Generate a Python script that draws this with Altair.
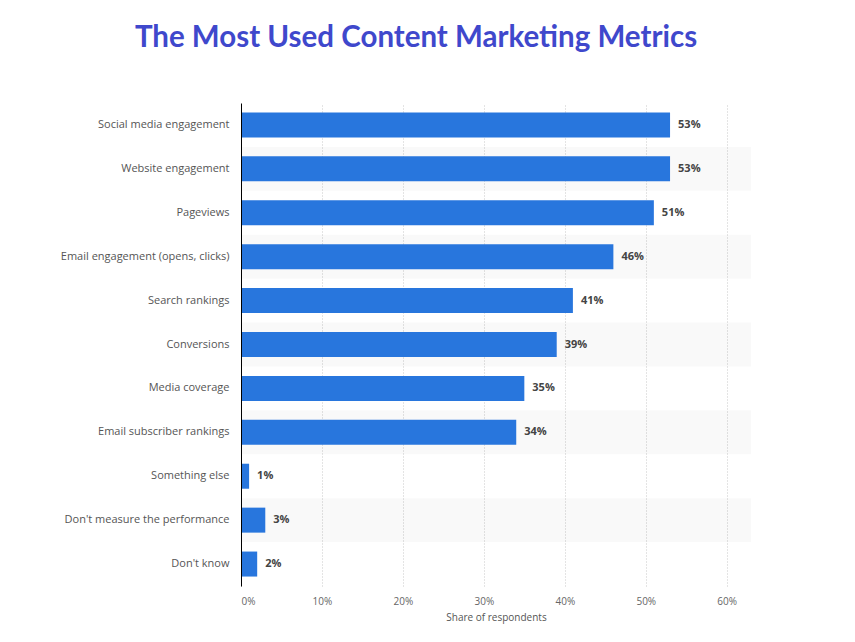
import altair as alt
import pandas as pd

categories = [
    "Social media engagement",
    "Website engagement",
    "Pageviews",
    "Email engagement (opens, clicks)",
    "Search rankings",
    "Conversions",
    "Media coverage",
    "Email subscriber rankings",
    "Something else",
    "Don't measure the performance",
    "Don't know",
]
values = [53, 53, 51, 46, 41, 39, 35, 34, 1, 3, 2]
striped = [i % 2 == 1 for i in range(len(categories))]

df = pd.DataFrame({
    "category": categories,
    "value": values,
    "label": [f"{v}%" for v in values],
    "striped": striped,
})

FONT = "Open Sans"
W, H = 510, 483

y_enc = alt.Y(
    "category:N",
    sort=categories,
    scale=alt.Scale(paddingInner=0, paddingOuter=0),
    axis=alt.Axis(
        title=None, ticks=False, domain=True, domainColor="#000000", domainWidth=1,
        labelFont=FONT, labelFontSize=11, labelColor="#555555", labelPadding=12,
        minExtent=233, maxExtent=233, grid=False,
    ),
)

x_scale = alt.Scale(domain=[0, 63], nice=False)

stripes = alt.Chart(df).transform_filter("datum.striped").mark_rect(
    color="#000000", opacity=0.022
).encode(
    y=y_enc,
    x=alt.value(0),
    x2=alt.value(W),
)

bars = alt.Chart(df).mark_bar(size=25, color="#2876dd").encode(
    y=y_enc,
    x=alt.X(
        "value:Q",
        scale=x_scale,
        axis=alt.Axis(
            title="Share of respondents", values=[0, 10, 20, 30, 40, 50, 60],
            labelExpr="datum.value + '%'", ticks=False, domain=False,
            grid=True, gridColor="#c8c8c8", gridDash=[1, 2], gridWidth=1,
            labelFont=FONT, labelFontSize=10, labelColor="#666666", labelPadding=10,
            titleFont=FONT, titleFontSize=10, titleColor="#555555",
            titleFontWeight="normal", titlePadding=6,
        ),
    ),
)

texts = alt.Chart(df).mark_text(
    align="left", baseline="middle", dx=8, font=FONT, fontSize=11,
    fontWeight="bold", color="#444444",
).encode(
    y=alt.Y("category:N", sort=categories),
    x=alt.X("value:Q", scale=x_scale),
    text="label:N",
)

chart = alt.layer(stripes, bars, texts).properties(
    width=W,
    height=H,
    padding={"left": 0, "top": 14, "right": 5, "bottom": 5},
    title=alt.TitleParams(
        "The Most Used Content Marketing Metrics",
        font="Lato", fontSize=29.5, fontWeight="bold", color="#3f48cc",
        anchor="middle", frame="group", dx=-80, offset=50,
    ),
).configure_view(stroke=None)

chart.save("out.html", embed_options={"renderer": "svg", "actions": False})
